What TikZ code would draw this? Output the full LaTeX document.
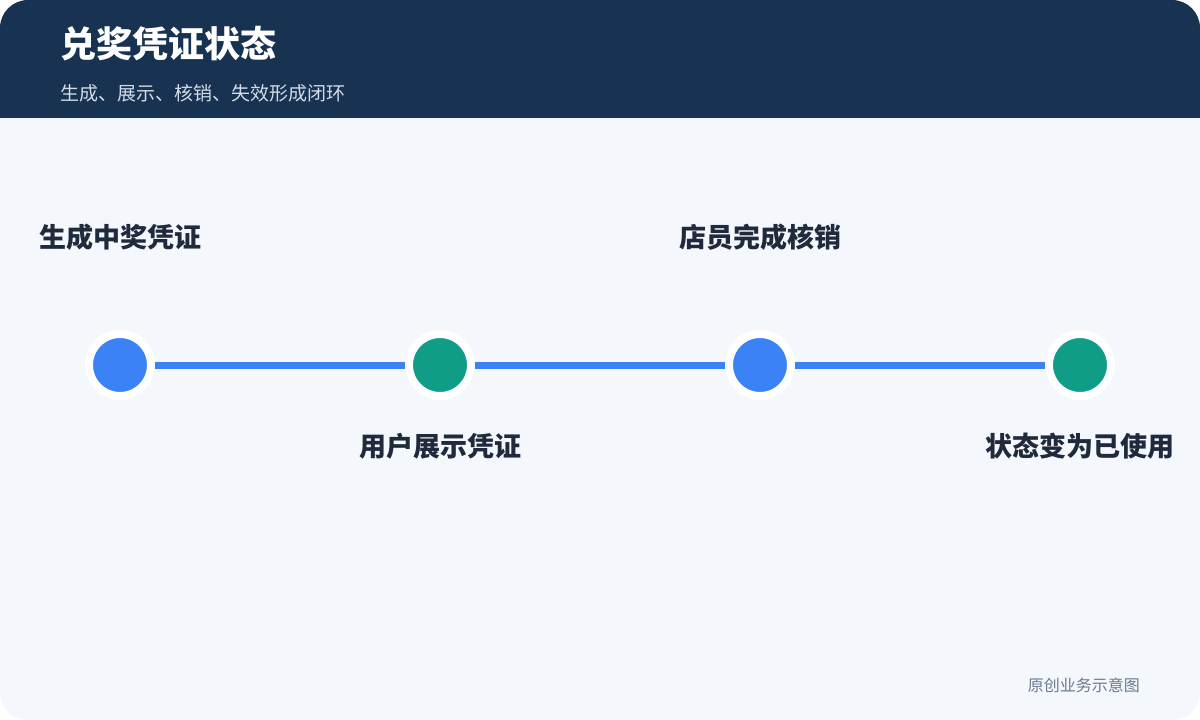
\documentclass[tikz,border=0pt]{standalone}
\usepackage{fontspec}
\setmainfont{Noto Sans CJK SC}
\definecolor{navy}{HTML}{183251}
\definecolor{pagebg}{HTML}{F4F7FC}
\definecolor{stepblue}{HTML}{3B82F6}
\definecolor{stepteal}{HTML}{109D88}
\definecolor{labeltext}{HTML}{1F2A3C}
\definecolor{subtext}{HTML}{D3DCE8}
\definecolor{notetext}{HTML}{6B7A90}
\tikzset{
  stop/.style={circle, draw=white, line width=8pt, minimum size=62pt, inner sep=0pt},
  steplabel/.style={inner sep=0pt, text=labeltext, font=\bfseries\fontsize{27}{32}\selectfont},
  track/.style={stepblue, line width=7pt}
}
\begin{document}
\begin{tikzpicture}[x=1pt, y=-1pt]
        \useasboundingbox (0, 0) rectangle (1200, 720);
        \fill[white] (0, 0) rectangle (1200, 720);
        \fill[pagebg, rounded corners=28pt] (0, 0) rectangle (1200, 720);
        \begin{scope}
            \clip[rounded corners=28pt] (0, 0) rectangle (1200, 720);
            \fill[navy] (0, 0) rectangle (1200, 118);
        \end{scope}

        \node[anchor=west, inner sep=0pt, text=white, font=\bfseries\fontsize{36}{40}\selectfont] at (60, 44) (title) {兑奖凭证状态};
        \node[anchor=west, inner sep=0pt, text=subtext, font=\fontsize{19}{22}\selectfont] at (60, 93) (subtitle) {生成、展示、核销、失效形成闭环};

        \node[stop, fill=stepblue] at (120, 365)  (make) {};
        \node[stop, fill=stepteal] at (440, 365)  (show) {};
        \node[stop, fill=stepblue] at (760, 365)  (check) {};
        \node[stop, fill=stepteal] at (1080, 365) (used) {};

        \draw[track] (make) -- (show);
        \draw[track] (show) -- (check);
        \draw[track] (check) -- (used);

        \node[steplabel] at (120, 237)  (makelabel)  {生成中奖凭证};
        \node[steplabel] at (440, 446)  (showlabel)  {用户展示凭证};
        \node[steplabel] at (760, 237)  (checklabel) {店员完成核销};
        \node[steplabel] at (1080, 446) (usedlabel)  {状态变为已使用};

        \node[anchor=east, inner sep=0pt, text=notetext, font=\fontsize{16}{18}\selectfont] at (1140, 685) (note) {原创业务示意图};
    \end{tikzpicture}
\end{document}
